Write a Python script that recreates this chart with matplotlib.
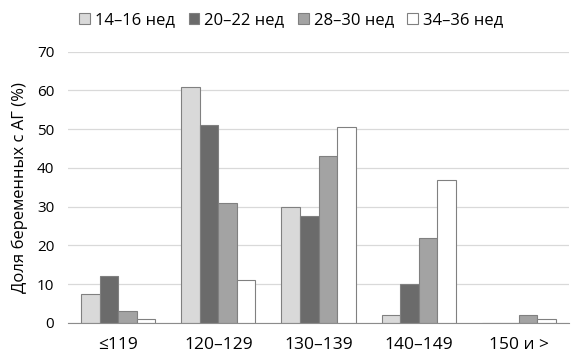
import numpy as np
import matplotlib
matplotlib.use("Agg")
import matplotlib.pyplot as plt
from matplotlib.patches import Patch

plt.rcParams["font.family"] = ["Open Sans", "DejaVu Sans"]

categories = ["≤119", "120–129", "130–139", "140–149", "150 и >"]
series_names = ["14–16 нед", "20–22 нед", "28–30 нед", "34–36 нед"]
w14_16 = [7.5, 61, 30, 2, 0]
w20_22 = [12, 51, 27.5, 10, 0]
w28_30 = [3, 31, 43, 22, 2]
w34_36 = [1, 11, 50.5, 37, 1]
yticks = [0, 10, 20, 30, 40, 50, 60, 70]

colors = ["#d9d9d9", "#6b6b6b", "#a3a3a3", "#ffffff"]
series = [w14_16, w20_22, w28_30, w34_36]

fig = plt.figure(figsize=(5.77, 3.64), dpi=100)
ax = fig.add_axes([0.118, 0.113, 0.868, 0.745])

x = np.arange(len(categories))
width = 0.185
for i, (vals, col) in enumerate(zip(series, colors)):
    ax.bar(x + (i - 1.5) * width, vals, width, color=col, edgecolor="#808080",
           linewidth=0.8, zorder=3)

ax.set_xlim(-0.5, len(categories) - 0.5)
ax.set_ylim(0, 70)
ax.set_yticks(yticks)
ax.set_xticks(x)
ax.set_xticklabels(categories, fontsize=12.5)
ax.tick_params(axis="y", labelsize=11, length=0, pad=10)
ax.tick_params(axis="x", length=0, pad=10)
ax.grid(axis="y", color="#d9d9d9", linewidth=0.9, zorder=0)
for s in ["top", "right", "left"]:
    ax.spines[s].set_visible(False)
ax.spines["bottom"].set_color("#8c8c8c")
ax.spines["bottom"].set_zorder(4)
ax.set_ylabel("Доля беременных с АГ (%)", fontsize=12, labelpad=6)

handles = [Patch(facecolor=c, edgecolor="#808080", linewidth=0.8) for c in colors]
fig.legend(handles, series_names, loc="center", bbox_to_anchor=(0.505, 0.945),
           ncol=4, frameon=False, fontsize=12, handlelength=0.65, handleheight=0.65,
           handletextpad=0.3, columnspacing=0.8)

fig.savefig("out.png", dpi=100)
